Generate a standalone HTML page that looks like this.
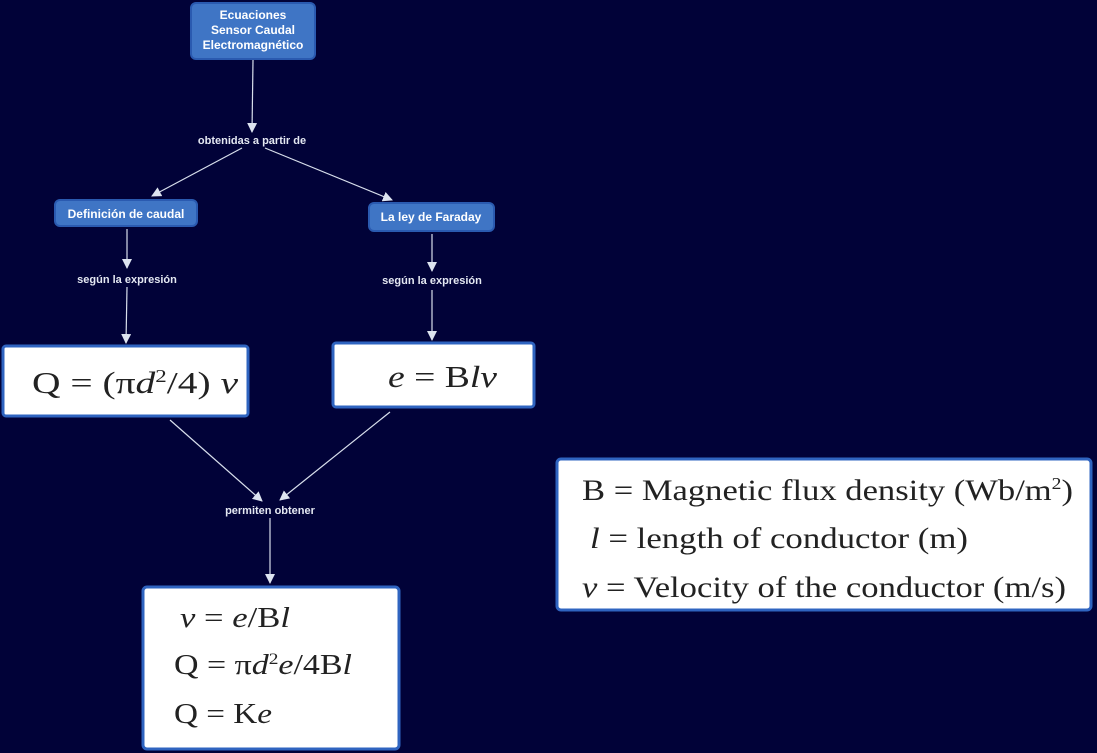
<!DOCTYPE html>
<html><head><meta charset="utf-8"><style>
html,body{margin:0;padding:0;background:#010238;}
svg{display:block}
.lbl{font-family:"Liberation Sans",sans-serif;font-size:11px;font-weight:bold;fill:#e4e8f2;text-anchor:middle}
.nd{font-family:"Liberation Sans",sans-serif;font-size:12px;font-weight:bold;fill:#fff;text-anchor:middle}
.m{font-family:"Liberation Serif",serif;fill:#222;}
</style></head><body>
<svg width="1097" height="753" viewBox="0 0 1097 753" xmlns="http://www.w3.org/2000/svg">
<defs><marker id="a" viewBox="0 0 10 10" refX="9" refY="5" markerWidth="10" markerHeight="10" orient="auto" markerUnits="userSpaceOnUse"><path d="M0,0 L10,5 L0,10 z" fill="#dde4f0"/></marker></defs>
<rect width="1097" height="753" fill="#010238"/>
<g stroke="#d8dfec" stroke-width="1.2" fill="none">
<line x1="253" y1="60" x2="252" y2="132" marker-end="url(#a)"/>
<line x1="242" y1="148" x2="152" y2="196" marker-end="url(#a)"/>
<line x1="265" y1="148" x2="392" y2="200" marker-end="url(#a)"/>
<line x1="127" y1="229" x2="127" y2="268" marker-end="url(#a)"/>
<line x1="127" y1="287" x2="126" y2="343" marker-end="url(#a)"/>
<line x1="432" y1="234" x2="432" y2="271" marker-end="url(#a)"/>
<line x1="432" y1="290" x2="432" y2="340" marker-end="url(#a)"/>
<line x1="170" y1="420" x2="262" y2="501" marker-end="url(#a)"/>
<line x1="390" y1="412" x2="280" y2="500" marker-end="url(#a)"/>
<line x1="270" y1="518" x2="270" y2="583" marker-end="url(#a)"/>
</g>
<rect x="191" y="3" width="124" height="56" rx="5" fill="#3f75c5" stroke="#2a5ab0" stroke-width="2"/>
<text class="nd" x="253" y="19">Ecuaciones</text>
<text class="nd" x="253" y="34">Sensor Caudal</text>
<text class="nd" x="253" y="49">Electromagnético</text>
<rect x="55" y="200" width="142" height="26" rx="5" fill="#3f75c5" stroke="#2a5ab0" stroke-width="2"/>
<text class="nd" x="126" y="218">Definición de caudal</text>
<rect x="369" y="203" width="125" height="28" rx="5" fill="#3f75c5" stroke="#2a5ab0" stroke-width="2"/>
<text class="nd" x="431" y="221">La ley de Faraday</text>
<text class="lbl" x="252" y="144">obtenidas a partir de</text>
<text class="lbl" x="127" y="283">según la expresión</text>
<text class="lbl" x="432" y="284">según la expresión</text>
<text class="lbl" x="270" y="514">permiten obtener</text>
<rect x="3" y="346" width="245" height="70" rx="3" fill="#fff" stroke="#2f64c0" stroke-width="3"/>
<text class="m" x="32" y="393" font-size="31" textLength="206" lengthAdjust="spacingAndGlyphs">Q = (π<tspan font-style="italic">d</tspan><tspan dy="-11" font-size="18">2</tspan><tspan dy="11">/4) </tspan><tspan font-style="italic">v</tspan></text>
<rect x="333" y="343" width="201" height="64" rx="3" fill="#fff" stroke="#2f64c0" stroke-width="3"/>
<text class="m" x="388" y="387" font-size="31" textLength="109" lengthAdjust="spacingAndGlyphs"><tspan font-style="italic">e</tspan> = B<tspan font-style="italic">lv</tspan></text>
<rect x="143" y="587" width="256" height="162" rx="4" fill="#fff" stroke="#2f64c0" stroke-width="3"/>
<text class="m" x="180" y="627" font-size="28" textLength="110" lengthAdjust="spacingAndGlyphs"><tspan font-style="italic">v</tspan> = <tspan font-style="italic">e</tspan>/B<tspan font-style="italic">l</tspan></text>
<text class="m" x="174" y="674" font-size="28" textLength="178" lengthAdjust="spacingAndGlyphs">Q = π<tspan font-style="italic">d</tspan><tspan dy="-10" font-size="16">2</tspan><tspan dy="10" font-style="italic">e</tspan>/4B<tspan font-style="italic">l</tspan></text>
<text class="m" x="174" y="723" font-size="28" textLength="98" lengthAdjust="spacingAndGlyphs">Q = K<tspan font-style="italic">e</tspan></text>
<rect x="557" y="459" width="534" height="151" rx="4" fill="#fff" stroke="#2f64c0" stroke-width="3"/>
<text class="m" x="582" y="500" font-size="30" textLength="491" lengthAdjust="spacingAndGlyphs">B = Magnetic flux density (Wb/m<tspan dy="-11" font-size="17">2</tspan><tspan dy="11">)</tspan></text>
<text class="m" x="590" y="548" font-size="30" textLength="378" lengthAdjust="spacingAndGlyphs"><tspan font-style="italic">l</tspan> = length of conductor (m)</text>
<text class="m" x="582" y="597" font-size="30" textLength="484" lengthAdjust="spacingAndGlyphs"><tspan font-style="italic">v</tspan> = Velocity of the conductor (m/s)</text>
</svg>
</body></html>
